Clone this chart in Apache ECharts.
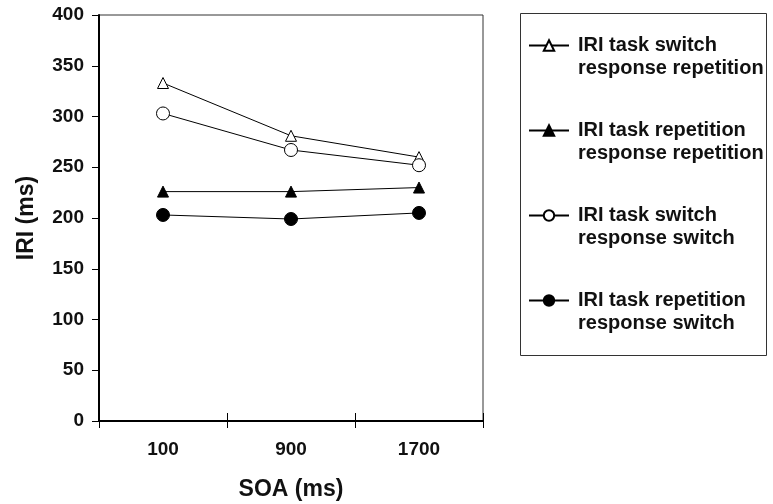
<!DOCTYPE html>
<html>
<head>
<meta charset="utf-8">
<script src="https://cdn.jsdelivr.net/npm/echarts@6/dist/echarts.min.js"></script>
<style>html,body{margin:0;padding:0;background:#fff}#c{width:773px;height:504px}</style>
</head>
<body>
<div id="c"></div>
<script>
const categories = ['100', '900', '1700'];
const seriesNames = [
  'IRI task switch\nresponse repetition',
  'IRI task repetition\nresponse repetition',
  'IRI task switch\nresponse switch',
  'IRI task repetition\nresponse switch'
];
const taskSwitchRespRep = [333, 281, 260];
const taskRepRespRep = [226, 226, 230];
const taskSwitchRespSwitch = [303, 267, 252];
const taskRepRespSwitch = [203, 199, 205];
const yTicks = [0, 50, 100, 150, 200, 250, 300, 350, 400];

const FONT = '"Liberation Sans", Arial, Helvetica, sans-serif';
const chart = echarts.init(document.getElementById('c'), null, {renderer: 'canvas'});

function mkSeries(name, data, symbol, size, filled) {
  return {
    name: name, type: 'line', data: data, xAxisIndex: 0,
    symbol: symbol, symbolSize: size, showSymbol: true,
    lineStyle: {color: '#000', width: 1},
    itemStyle: {color: filled ? '#000' : '#fff', borderColor: '#000', borderWidth: 1},
    emphasis: {disabled: true}, animation: false, z: 3
  };
}

const option = {
  animation: false,
  textStyle: {fontFamily: FONT},
  grid: {left: 99, top: 15, right: 290, bottom: 83, show: true, borderColor: '#333', borderWidth: 1,
    containLabel: false, outerBoundsMode: 'none'},
  xAxis: [{
    type: 'category', data: categories, position: 'bottom', boundaryGap: true,
    axisLine: {lineStyle: {color: '#000', width: 2}},
    axisTick: {show: true, length: 7, lineStyle: {color: '#000', width: 1}},
    axisLabel: {fontSize: 19, fontWeight: 'bold', color: '#111', margin: 19, fontFamily: FONT},
    name: 'SOA (ms)', nameLocation: 'middle', nameGap: 57,
    nameTextStyle: {fontSize: 23, fontWeight: 'bold', color: '#111', fontFamily: FONT}
  }, {
    type: 'category', data: categories, position: 'bottom', boundaryGap: true,
    axisLine: {show: false},
    axisTick: {show: true, inside: true, length: 8, lineStyle: {color: '#000', width: 1}},
    axisLabel: {show: false}
  }],
  yAxis: {
    type: 'value', min: 0, max: 400, interval: 50,
    axisLine: {show: true, lineStyle: {color: '#000', width: 2}},
    axisTick: {show: true, length: 7, lineStyle: {color: '#000', width: 1}},
    splitLine: {show: false},
    axisLabel: {fontSize: 19, fontWeight: 'bold', color: '#111', margin: 15, fontFamily: FONT,
      formatter: function (v) { return yTicks.indexOf(v) >= 0 ? String(v) : ''; }},
    name: 'IRI (ms)', nameLocation: 'middle', nameGap: 61,
    nameTextStyle: {fontSize: 23, fontWeight: 'bold', color: '#111', fontFamily: FONT}
  },
  legend: {
    orient: 'vertical', left: 528, top: 11, padding: 0, itemGap: 16,
    itemWidth: 40, itemHeight: 13, selectedMode: false,
    data: seriesNames,
    formatter: function (name) { return ' \n' + name; },
    textStyle: {fontSize: 20, fontWeight: 'bold', color: '#111', lineHeight: 23,
      padding: [0, 0, 0, 4], fontFamily: FONT}
  },
  graphic: [{
    type: 'rect', shape: {x: 520.5, y: 13.5, width: 246, height: 342},
    style: {fill: 'none', stroke: '#333', lineWidth: 1}, silent: true
  }],
  series: [
    mkSeries(seriesNames[0], taskSwitchRespRep, 'triangle', 11, false),
    mkSeries(seriesNames[1], taskRepRespRep, 'triangle', 11, true),
    mkSeries(seriesNames[2], taskSwitchRespSwitch, 'circle', 13, false),
    mkSeries(seriesNames[3], taskRepRespSwitch, 'circle', 13, true)
  ]
};
chart.setOption(option);
</script>
</body>
</html>
